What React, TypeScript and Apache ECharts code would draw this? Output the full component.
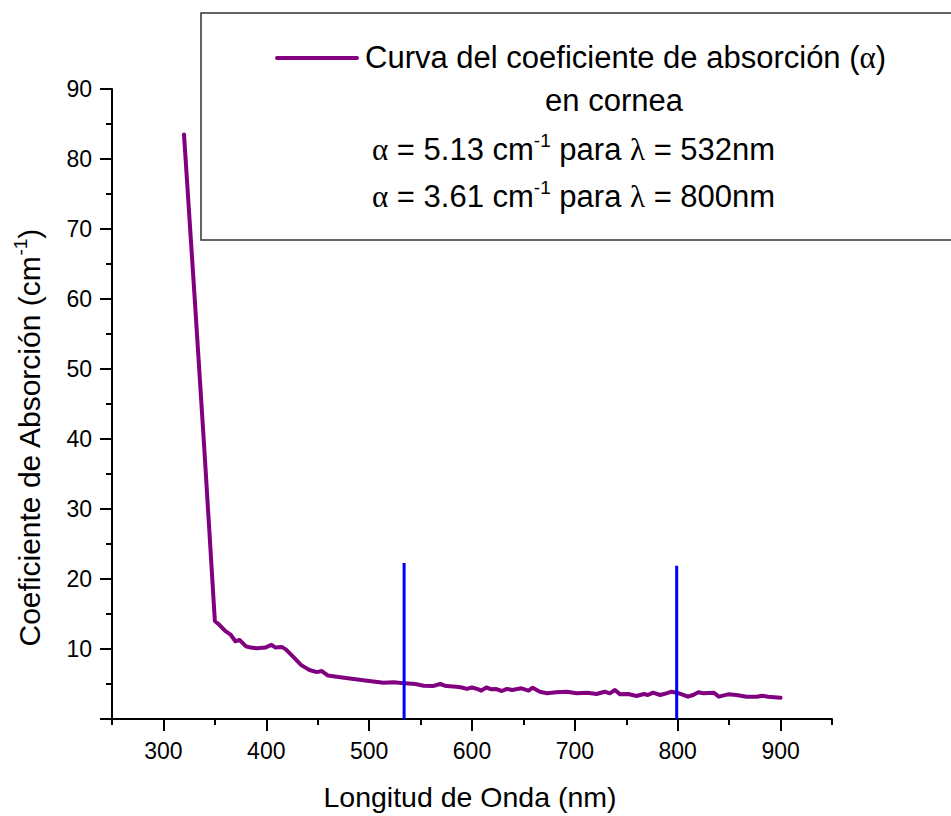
import React, { useEffect, useRef } from "react";
import * as echarts from "echarts";

// Wavelength (nm) and absorption coefficient (cm^-1)
const wavelengths = [
  320, 330, 340, 350, 354, 360, 365, 370, 374, 380, 385, 391, 399, 405, 409, 415, 419,
  426, 434, 442, 449, 454, 460, 472, 485, 498, 514, 524, 535, 545, 553, 562, 569, 575,
  585, 590, 595, 600, 605, 609, 614, 619, 623, 629, 634, 639, 648, 655, 659, 666, 673,
  682, 692, 702, 712, 721, 729, 734, 739, 744, 752, 760, 767, 771, 776, 783, 789, 794,
  799, 804, 810, 815, 820, 825, 835, 840, 849, 857, 867, 877, 882, 888, 900,
];
const absorption = [
  83.5, 61, 38, 14.0, 13.5, 12.6, 12.1, 11.1, 11.3, 10.4, 10.2, 10.1, 10.2, 10.6, 10.2, 10.3, 9.95,
  8.9, 7.7, 7.0, 6.7, 6.85, 6.2, 5.95, 5.7, 5.47, 5.19, 5.24, 5.09, 5.0, 4.76, 4.7, 5.0, 4.7,
  4.6, 4.5, 4.3, 4.5, 4.3, 4.05, 4.5, 4.24, 4.3, 4.0, 4.3, 4.14, 4.38, 4.05, 4.47, 3.9, 3.67,
  3.81, 3.9, 3.67, 3.76, 3.57, 3.9, 3.67, 4.14, 3.52, 3.57, 3.29, 3.57, 3.43, 3.76, 3.43, 3.67, 3.9,
  3.76, 3.52, 3.19, 3.43, 3.81, 3.67, 3.76, 3.19, 3.52, 3.43, 3.19, 3.19, 3.33, 3.19, 3.05,
];

// Vertical blue marker lines
const markerWavelengths = [534, 799];
const markerTops = [22.3, 21.9];

// Axis ranges
const xRange = [250, 950];
const xMajorRange = [300, 900];
const yRange = [0, 90];

const legendLines = [
  "en cornea",
];

const FONT = "'Liberation Sans', Arial, sans-serif";
const GREEK = "'Liberation Serif', 'DejaVu Serif', serif";
const PURPLE = "#800080";

export default function App() {
  const ref = useRef<HTMLDivElement>(null);

  useEffect(() => {
    if (!ref.current) return;
    const chart = echarts.init(ref.current, undefined, { renderer: "svg" });

    const gridLeft = 112;
    const gridTop = 89;
    const gridW = 720;
    const gridH = 630;
    const pxPerNm = gridW / (xRange[1] - xRange[0]);

    const richMain = (size: number) => ({
      t: { fontFamily: FONT, fontSize: size, color: "#000", lineHeight: 36 },
      g: { fontFamily: GREEK, fontSize: size, color: "#000", lineHeight: 36 },
      s: { fontFamily: FONT, fontSize: 19, color: "#000", lineHeight: 6, verticalAlign: "top" },
    });

    const axisLabelStyle = { fontFamily: FONT, fontSize: 23, color: "#000" };

    const option: any = {
      animation: false,
      backgroundColor: "#fff",
      grid: [
        { left: gridLeft, top: gridTop, width: gridW, height: gridH },
        {
          left: gridLeft + (xMajorRange[0] - xRange[0]) * pxPerNm,
          top: gridTop,
          width: (xMajorRange[1] - xMajorRange[0]) * pxPerNm,
          height: gridH,
        },
      ],
      xAxis: [
        {
          type: "value",
          gridIndex: 0,
          min: xRange[0],
          max: xRange[1],
          interval: 50,
          axisLine: { show: true, onZero: false, lineStyle: { color: "#000", width: 2 } },
          axisTick: { show: true, inside: false, length: 6, lineStyle: { color: "#000", width: 2 } },
          axisLabel: { show: false },
          splitLine: { show: false },
        },
        {
          type: "value",
          gridIndex: 1,
          min: xMajorRange[0],
          max: xMajorRange[1],
          interval: 100,
          axisLine: { show: false, onZero: false },
          axisTick: { show: true, inside: false, length: 12, lineStyle: { color: "#000", width: 2 } },
          axisLabel: { show: true, margin: 20, ...axisLabelStyle },
          splitLine: { show: false },
        },
      ],
      yAxis: [
        {
          type: "value",
          gridIndex: 0,
          min: yRange[0],
          max: yRange[1],
          interval: 10,
          axisLine: { show: true, onZero: false, lineStyle: { color: "#000", width: 2 } },
          axisTick: { show: true, inside: false, length: 12, lineStyle: { color: "#000", width: 2 } },
          minorTick: { show: true, splitNumber: 2, length: 6, lineStyle: { color: "#000", width: 2 } },
          axisLabel: {
            show: true,
            margin: 20,
            ...axisLabelStyle,
            formatter: (v: number) => (v === 0 ? "" : String(v)),
          },
          splitLine: { show: false },
          minorSplitLine: { show: false },
        },
        {
          type: "value",
          gridIndex: 1,
          min: yRange[0],
          max: yRange[1],
          show: false,
        },
      ],
      series: [
        {
          type: "line",
          xAxisIndex: 0,
          yAxisIndex: 0,
          data: wavelengths.map((w, i) => [w, absorption[i]]),
          showSymbol: false,
          lineStyle: { color: PURPLE, width: 4, cap: "round", join: "round" },
          itemStyle: { color: PURPLE },
          z: 2,
        },
        ...markerWavelengths.map((w, i) => ({
          type: "line",
          xAxisIndex: 0,
          yAxisIndex: 0,
          data: [
            [w, 0],
            [w, markerTops[i]],
          ],
          showSymbol: false,
          lineStyle: { color: "#0000FF", width: 3 },
          itemStyle: { color: "#0000FF" },
          z: 3,
        })),
      ],
      graphic: [
        {
          type: "rect",
          shape: { x: 201, y: 13, width: 780, height: 227 },
          style: { fill: "none", stroke: "#333", lineWidth: 1.5 },
          z: 10,
        },
        {
          type: "line",
          shape: { x1: 277, y1: 58, x2: 357, y2: 58 },
          style: { stroke: PURPLE, lineWidth: 4, lineCap: "round" },
          z: 10,
        },
        {
          type: "text",
          x: 365,
          y: 57,
          z: 10,
          style: {
            text: "{t|Curva del coeficiente de absorción (}{g|α}{t|)}",
            rich: richMain(31),
            align: "left",
            verticalAlign: "middle",
          },
        },
        {
          type: "text",
          x: 614,
          y: 100,
          z: 10,
          style: {
            text: legendLines[0],
            fontFamily: FONT,
            fontSize: 31,
            fill: "#000",
            align: "center",
            verticalAlign: "middle",
          },
        },
        {
          type: "text",
          x: 372,
          y: 149,
          z: 10,
          style: {
            text: "{g|α}{t| = 5.13 cm}{s|-1}{t| para }{g|λ}{t| = 532nm}",
            rich: richMain(31),
            align: "left",
            verticalAlign: "middle",
          },
        },
        {
          type: "text",
          x: 372,
          y: 196,
          z: 10,
          style: {
            text: "{g|α}{t| = 3.61 cm}{s|-1}{t| para }{g|λ}{t| = 800nm}",
            rich: richMain(31),
            align: "left",
            verticalAlign: "middle",
          },
        },
        {
          type: "text",
          x: 470,
          y: 797,
          z: 10,
          style: {
            text: "Longitud de Onda (nm)",
            fontFamily: FONT,
            fontSize: 28.5,
            fill: "#000",
            align: "center",
            verticalAlign: "middle",
          },
        },
        {
          type: "text",
          x: 29,
          y: 438,
          rotation: Math.PI / 2,
          z: 10,
          style: {
            text: "{t|Coeficiente de Absorción (cm}{s|-1}{t|)}",
            rich: {
              t: { fontFamily: FONT, fontSize: 30, color: "#000", lineHeight: 36 },
              s: { fontFamily: FONT, fontSize: 19, color: "#000", lineHeight: 6, verticalAlign: "top" },
            },
            align: "center",
            verticalAlign: "middle",
          },
        },
      ],
    };

    chart.setOption(option);
    return () => chart.dispose();
  }, []);

  return (
    <div
      ref={ref}
      style={{ position: "fixed", left: 0, top: 0, width: 951, height: 816, background: "#fff" }}
    />
  );
}
